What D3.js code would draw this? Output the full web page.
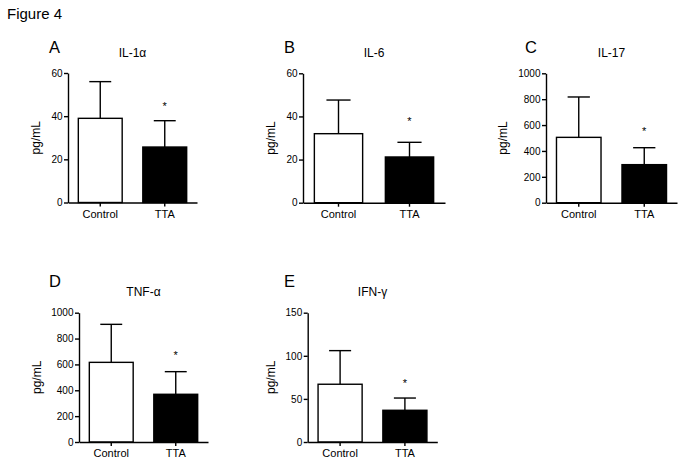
<!DOCTYPE html>
<html>
<head>
<meta charset="utf-8">
<script src="https://cdn.jsdelivr.net/npm/d3@7"></script>
<style>
  html, body { margin: 0; padding: 0; background: #fff; }
  svg { display: block; font-family: "Liberation Sans", Arial, Helvetica, sans-serif; }
</style>
</head>
<body>
<svg id="chart" width="683" height="464"></svg>
<script>
// ---- data ----
const panelLetters = ["A", "B", "C", "D", "E"];
const panelTitles  = ["IL-1α", "IL-6", "IL-17", "TNF-α", "IFN-γ"];
const categories   = ["Control", "TTA"];
const controlMeans = [39, 32, 505, 616, 67];
const controlErr   = [17, 15.6, 312, 294, 39];
const ttaMeans     = [25.7, 21.2, 294, 369, 36.8];
const ttaErr       = [12.2, 6.8, 131, 175, 14.2];
const yMaxes       = [60, 60, 1000, 1000, 150];
const yTickValues  = [
  [0, 20, 40, 60],
  [0, 20, 40, 60],
  [0, 200, 400, 600, 800, 1000],
  [0, 200, 400, 600, 800, 1000],
  [0, 50, 100, 150]
];
const starValues   = [45.6, 38.8, 570, 690, 70.8];
const yAxisLabel   = "pg/mL";
const figureTitle  = "Figure 4";

// ---- layout (pixel geometry per panel) ----
const layout = [
  { x0: 68,    x1: 197,   yTop: 73,    yBot: 202.5, letterX: 49,  letterY: 53,  titleY: 57,  ylabX: 40 },
  { x0: 303,   x1: 445,   yTop: 73.3,  yBot: 202.7, letterX: 284, letterY: 53,  titleY: 57,  ylabX: 275 },
  { x0: 546,   x1: 677,   yTop: 73.3,  yBot: 202.7, letterX: 525, letterY: 53,  titleY: 57,  ylabX: 507 },
  { x0: 79,    x1: 208,   yTop: 312.7, yBot: 442,   letterX: 49,  letterY: 287, titleY: 296, ylabX: 41 },
  { x0: 307.7, x1: 437.3, yTop: 312.7, yBot: 442,   letterX: 284, letterY: 287, titleY: 296, ylabX: 275 }
];

const svg = d3.select("#chart");

svg.append("text")
  .attr("x", 7).attr("y", 19)
  .attr("font-size", 15)
  .attr("fill", "#000")
  .text(figureTitle);

panelLetters.forEach((letter, i) => {
  const L = layout[i];
  const g = svg.append("g");

  const x = d3.scaleBand()
    .domain(categories)
    .range([L.x0, L.x1])
    .paddingInner(0.32)
    .paddingOuter(0.16);

  const y = d3.scaleLinear()
    .domain([0, yMaxes[i]])
    .range([L.yBot, L.yTop]);

  const rows = [
    { cat: categories[0], mean: controlMeans[i], err: controlErr[i], fill: "#fff" },
    { cat: categories[1], mean: ttaMeans[i],     err: ttaErr[i],     fill: "#000" }
  ];

  // error bars (upward only)
  const eb = g.selectAll(".eb").data(rows).enter().append("g")
    .attr("stroke", "#000").attr("stroke-width", 1.4).attr("fill", "none");
  eb.append("line")
    .attr("x1", d => x(d.cat) + x.bandwidth() / 2)
    .attr("x2", d => x(d.cat) + x.bandwidth() / 2)
    .attr("y1", d => y(d.mean))
    .attr("y2", d => y(d.mean + d.err));
  eb.append("line")
    .attr("x1", d => x(d.cat) + x.bandwidth() / 4)
    .attr("x2", d => x(d.cat) + x.bandwidth() * 3 / 4)
    .attr("y1", d => y(d.mean + d.err))
    .attr("y2", d => y(d.mean + d.err));

  // bars
  g.selectAll(".bar").data(rows).enter().append("rect")
    .attr("x", d => x(d.cat))
    .attr("width", x.bandwidth())
    .attr("y", d => y(d.mean))
    .attr("height", d => y(0) - y(d.mean))
    .attr("fill", d => d.fill)
    .attr("stroke", "#000")
    .attr("stroke-width", 1.4);

  // axes
  const yAxis = d3.axisLeft(y)
    .tickValues(yTickValues[i])
    .tickSize(4)
    .tickSizeOuter(0)
    .tickPadding(1.5)
    .tickFormat(d3.format("d"));
  const ya = g.append("g")
    .attr("transform", `translate(${L.x0},0)`)
    .call(yAxis);
  ya.attr("font-family", '"Liberation Sans", Arial, sans-serif').attr("font-size", 10);
  ya.selectAll("text").attr("font-size", 10).attr("fill", "#000");
  ya.selectAll("path, line").attr("stroke", "#000").attr("stroke-width", 1.4);

  const xAxis = d3.axisBottom(x)
    .tickSize(4)
    .tickSizeOuter(0)
    .tickPadding(3.5);
  const xa = g.append("g")
    .attr("transform", `translate(0,${L.yBot})`)
    .call(xAxis);
  xa.attr("font-family", '"Liberation Sans", Arial, sans-serif').attr("font-size", 11);
  xa.selectAll("text").attr("font-size", 11).attr("fill", "#000");
  xa.selectAll("path, line").attr("stroke", "#000").attr("stroke-width", 1.4);

  // significance star
  g.append("text")
    .attr("x", x(categories[1]) + x.bandwidth() / 2)
    .attr("y", y(starValues[i]) + 6)
    .attr("text-anchor", "middle")
    .attr("font-size", 11)
    .attr("fill", "#000")
    .text("*");

  // y label
  g.append("text")
    .attr("transform", `translate(${L.ylabX},${(L.yTop + L.yBot) / 2}) rotate(-90)`)
    .attr("text-anchor", "middle")
    .attr("font-size", 12)
    .attr("fill", "#000")
    .text(yAxisLabel);

  // title
  g.append("text")
    .attr("x", (L.x0 + L.x1) / 2)
    .attr("y", L.titleY)
    .attr("text-anchor", "middle")
    .attr("font-size", 12)
    .attr("fill", "#000")
    .text(panelTitles[i]);

  // panel letter
  g.append("text")
    .attr("x", L.letterX)
    .attr("y", L.letterY)
    .attr("font-size", 16.5)
    .attr("fill", "#000")
    .text(letter);
});
</script>
</body>
</html>
